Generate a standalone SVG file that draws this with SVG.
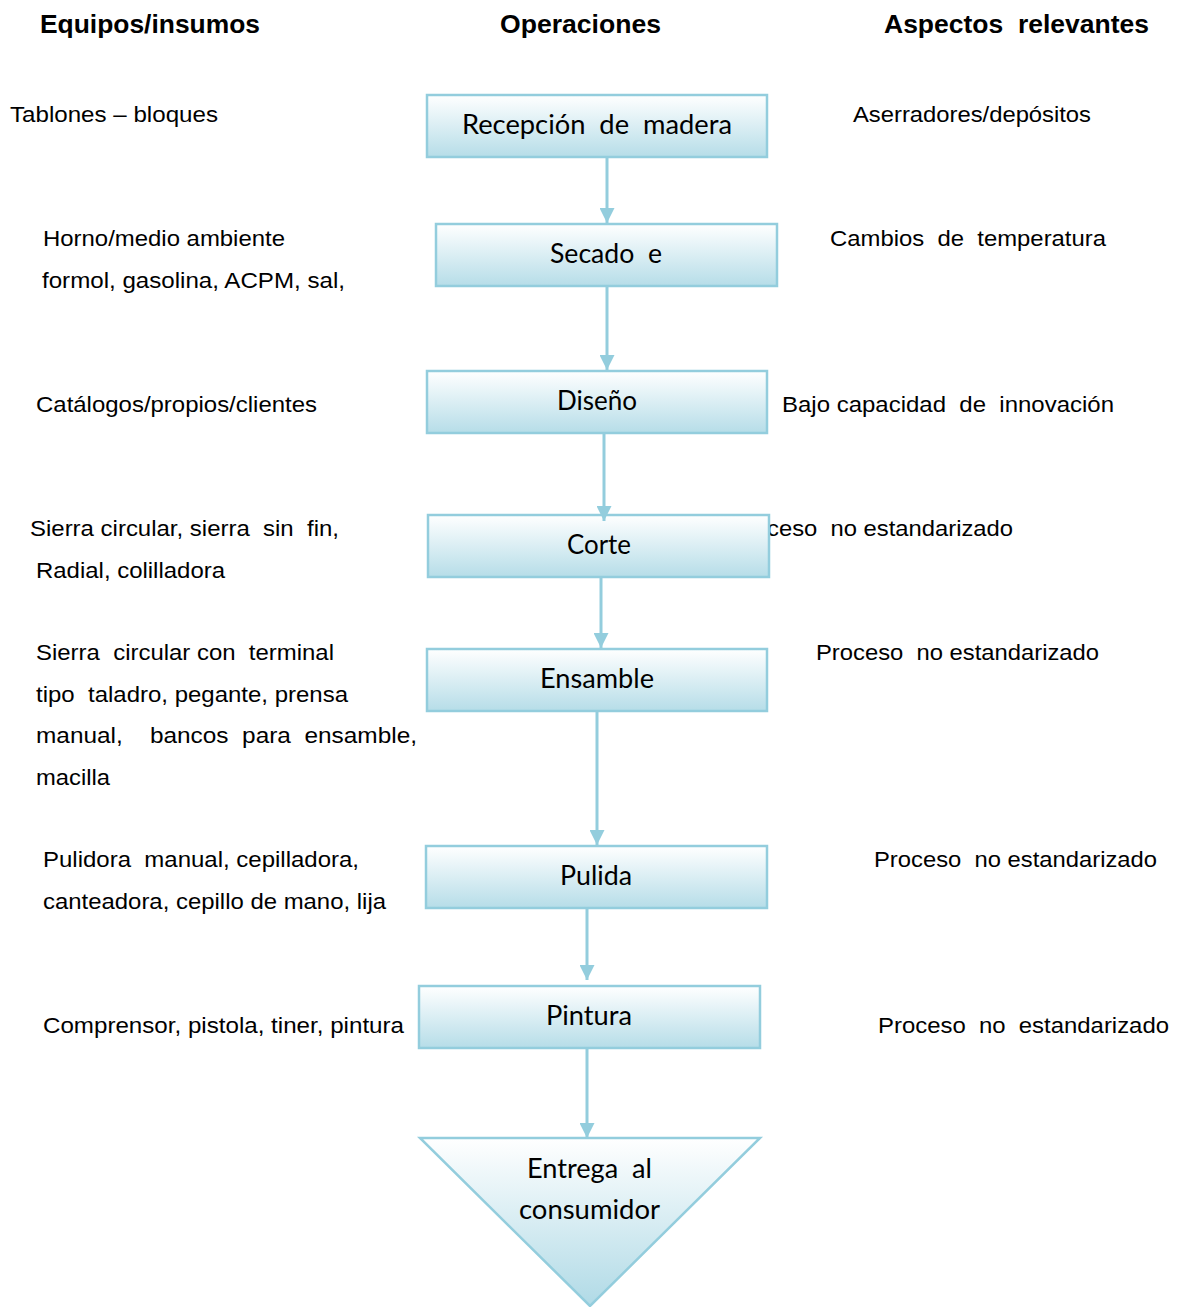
<svg xmlns="http://www.w3.org/2000/svg" width="1181" height="1307" viewBox="0 0 1181 1307" xml:space="preserve">
  <defs>
    <linearGradient id="boxFill" x1="0" y1="0" x2="0" y2="1">
      <stop offset="0" stop-color="#ffffff"/>
      <stop offset="1" stop-color="#b6dde8"/>
    </linearGradient>
    <linearGradient id="triFill" x1="0" y1="0" x2="0" y2="1">
      <stop offset="0" stop-color="#ffffff"/>
      <stop offset="1" stop-color="#b0dae6"/>
    </linearGradient>
    <marker id="arrow" viewBox="0 0 10 10" refX="10" refY="5" markerWidth="5" markerHeight="5" markerUnits="strokeWidth" orient="auto">
      <path d="M0,0 L10,5 L0,10 z" fill="#93cddd"/>
    </marker>
    <style>
      text { white-space: pre; }
      .head { font-family: "Liberation Sans", Arial, sans-serif; font-weight: bold; font-size: 26px; fill: #000; }
      .side { font-family: "Liberation Sans", Arial, sans-serif; font-size: 22.5px; fill: #000; }
      .box { fill: url(#boxFill); stroke: #93cddd; stroke-width: 2.5; }
      .tri { fill: url(#triFill); stroke: #93cddd; stroke-width: 2.5; }
      .label { font-family: Lato, "Noto Sans", sans-serif; font-size: 26px; fill: #000; }
      .conn { stroke: #93cddd; stroke-width: 3; fill: none; marker-end: url(#arrow); }
    </style>
  </defs>

  <!-- column headings -->
  <g id="headings">
    <text class="head" x="40" y="33" textLength="220" lengthAdjust="spacingAndGlyphs">Equipos/insumos</text>
    <text class="head" x="500" y="33" textLength="161" lengthAdjust="spacingAndGlyphs">Operaciones</text>
    <text class="head" x="884" y="33" textLength="265" lengthAdjust="spacingAndGlyphs">Aspectos  relevantes</text>
  </g>

  <!-- equipment / inputs column -->
  <g id="equipos">
    <text class="side" x="10" y="122" textLength="208" lengthAdjust="spacingAndGlyphs">Tablones – bloques</text>
    <text class="side" x="43" y="246" textLength="242" lengthAdjust="spacingAndGlyphs">Horno/medio ambiente</text>
    <text class="side" x="42" y="288" textLength="303" lengthAdjust="spacingAndGlyphs">formol, gasolina, ACPM, sal,</text>
    <text class="side" x="36" y="412" textLength="281" lengthAdjust="spacingAndGlyphs">Catálogos/propios/clientes</text>
    <text class="side" x="30" y="536" textLength="309" lengthAdjust="spacingAndGlyphs">Sierra circular, sierra  sin  fin,</text>
    <text class="side" x="36" y="578" textLength="189" lengthAdjust="spacingAndGlyphs">Radial, colilladora</text>
    <text class="side" x="36" y="660" textLength="298" lengthAdjust="spacingAndGlyphs">Sierra  circular con  terminal</text>
    <text class="side" x="36" y="702" textLength="312" lengthAdjust="spacingAndGlyphs">tipo  taladro, pegante, prensa</text>
    <text class="side" x="36" y="743" textLength="381" lengthAdjust="spacingAndGlyphs">manual,    bancos  para  ensamble,</text>
    <text class="side" x="36" y="785" textLength="74" lengthAdjust="spacingAndGlyphs">macilla</text>
    <text class="side" x="43" y="867" textLength="316" lengthAdjust="spacingAndGlyphs">Pulidora  manual, cepilladora,</text>
    <text class="side" x="43" y="909" textLength="343" lengthAdjust="spacingAndGlyphs">canteadora, cepillo de mano, lija</text>
    <text class="side" x="43" y="1033" textLength="361" lengthAdjust="spacingAndGlyphs">Comprensor, pistola, tiner, pintura</text>
  </g>

  <!-- relevant aspects column -->
  <g id="aspectos">
    <text class="side" x="853" y="122" textLength="238" lengthAdjust="spacingAndGlyphs">Aserradores/depósitos</text>
    <text class="side" x="830" y="246" textLength="276" lengthAdjust="spacingAndGlyphs">Cambios  de  temperatura</text>
    <text class="side" x="782" y="412" textLength="332" lengthAdjust="spacingAndGlyphs">Bajo capacidad  de  innovación</text>
    <text class="side" x="730" y="536" textLength="283" lengthAdjust="spacingAndGlyphs">Proceso  no estandarizado</text>
    <text class="side" x="816" y="660" textLength="283" lengthAdjust="spacingAndGlyphs">Proceso  no estandarizado</text>
    <text class="side" x="874" y="867" textLength="283" lengthAdjust="spacingAndGlyphs">Proceso  no estandarizado</text>
    <text class="side" x="878" y="1033" textLength="291" lengthAdjust="spacingAndGlyphs">Proceso  no  estandarizado</text>
  </g>

  <!-- operations -->
  <g id="recepcion">
    <rect class="box" x="427" y="95" width="340" height="62"/>
    <text class="label" x="462" y="134" textLength="270" lengthAdjust="spacingAndGlyphs">Recepción  de  madera</text>
  </g>
  <g id="secado">
    <rect class="box" x="436" y="224" width="341" height="62"/>
    <text class="label" x="550" y="263" textLength="112" lengthAdjust="spacingAndGlyphs">Secado  e</text>
  </g>
  <g id="diseno">
    <rect class="box" x="427" y="371" width="340" height="62"/>
    <text class="label" x="557" y="410" textLength="80" lengthAdjust="spacingAndGlyphs">Diseño</text>
  </g>
  <g id="corte">
    <rect class="box" x="428" y="515" width="341" height="62"/>
    <text class="label" x="567" y="554" textLength="64" lengthAdjust="spacingAndGlyphs">Corte</text>
  </g>
  <g id="ensamble">
    <rect class="box" x="427" y="649" width="340" height="62"/>
    <text class="label" x="540" y="688" textLength="114" lengthAdjust="spacingAndGlyphs">Ensamble</text>
  </g>
  <g id="pulida">
    <rect class="box" x="426" y="846" width="341" height="62"/>
    <text class="label" x="560" y="885" textLength="72" lengthAdjust="spacingAndGlyphs">Pulida</text>
  </g>
  <g id="pintura">
    <rect class="box" x="419" y="986" width="341" height="62"/>
    <text class="label" x="546" y="1025" textLength="86" lengthAdjust="spacingAndGlyphs">Pintura</text>
  </g>
  <g id="entrega">
    <polygon class="tri" points="420,1138 760,1138 590,1306"/>
    <text class="label" x="527" y="1178" textLength="125" lengthAdjust="spacingAndGlyphs">Entrega  al</text>
    <text class="label" x="519" y="1219" textLength="141" lengthAdjust="spacingAndGlyphs">consumidor</text>
  </g>

  <!-- connectors -->
  <g id="connectors">
    <line class="conn" x1="607" y1="157" x2="607" y2="223"/>
    <line class="conn" x1="607" y1="286" x2="607" y2="370"/>
    <line class="conn" x1="604" y1="433" x2="604" y2="521"/>
    <line class="conn" x1="601" y1="577" x2="601" y2="648"/>
    <line class="conn" x1="597" y1="711" x2="597" y2="845"/>
    <line class="conn" x1="587" y1="908" x2="587" y2="980"/>
    <line class="conn" x1="587" y1="1048" x2="587" y2="1138"/>
  </g>
</svg>
